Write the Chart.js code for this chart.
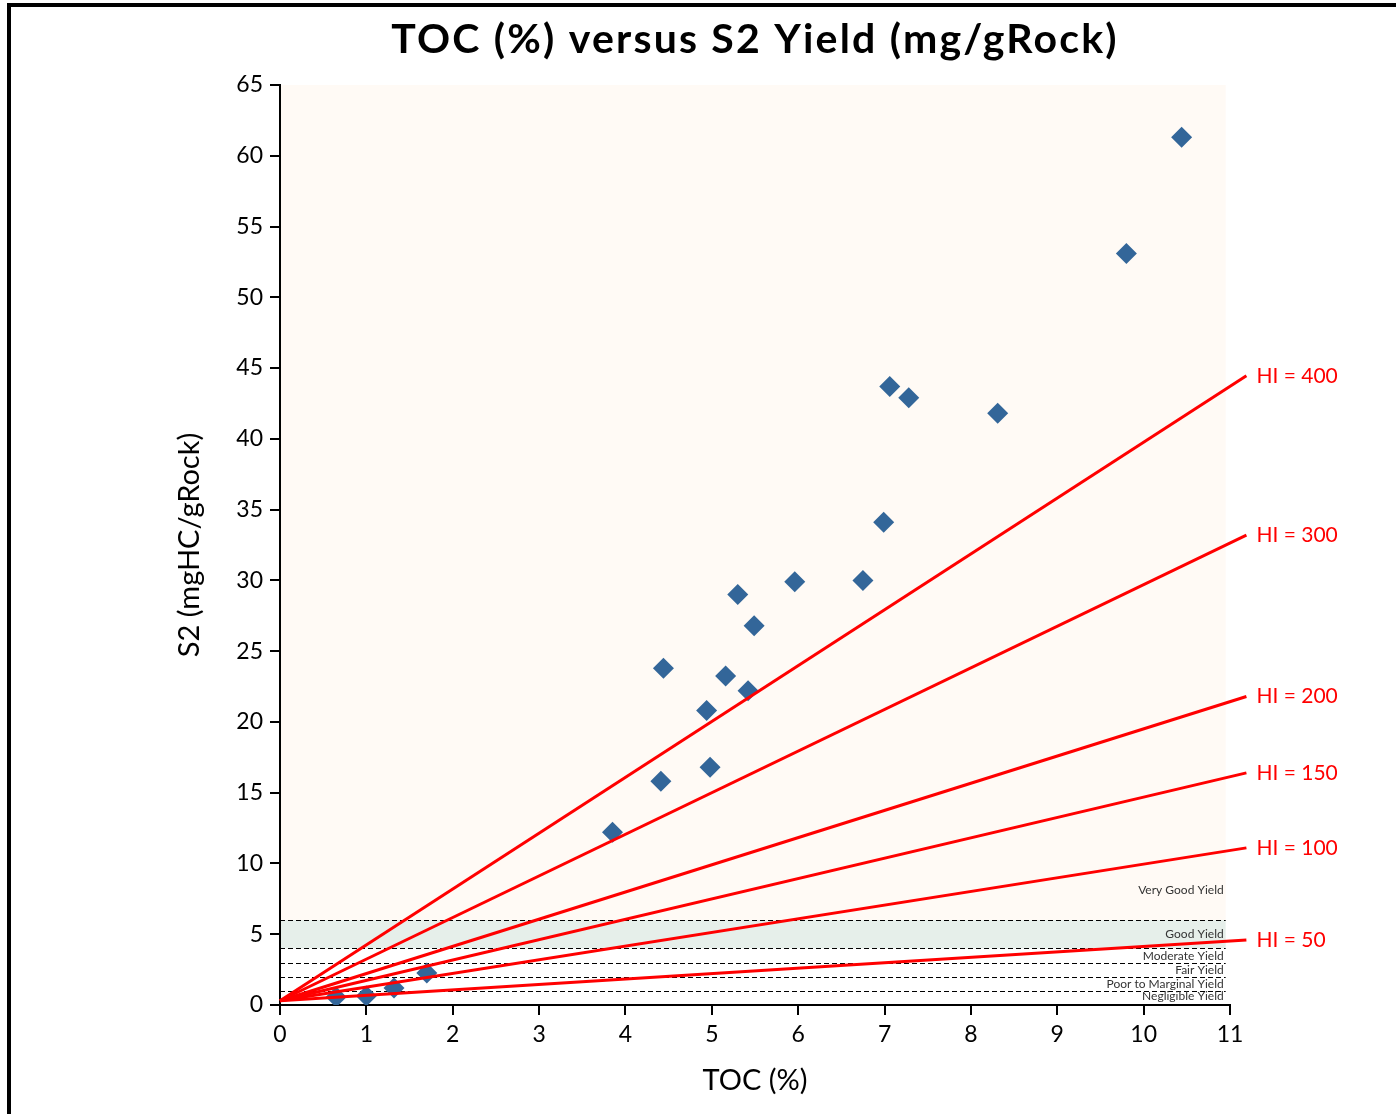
<!DOCTYPE html>
<html>
<head>
<meta charset="utf-8">
<script src="https://cdn.jsdelivr.net/npm/chart.js@4"></script>
<style>
  html, body { margin: 0; padding: 0; background: #fff; }
  #wrap { position: relative; width: 1396px; height: 1114px; overflow: hidden; }
  #chart-toc { background: #fff; }
  #frame { position: absolute; left: 7px; top: 3px; right: -10px; bottom: -10px;
           border-left: 4px solid #000; border-top: 4px solid #000; pointer-events: none; }
</style>
</head>
<body>
<div id="wrap">
  <canvas id="chart-toc" width="1396" height="1114"></canvas>
  <div id="frame"></div>
</div>
<script>
// samples: TOC (%) and S2 (mgHC/gRock)
const tocValues = [0.65, 1.0, 1.32, 1.7, 3.85, 4.41, 4.44, 4.94, 4.98, 5.16, 5.3,
                   5.42, 5.49, 5.96, 6.75, 6.99, 7.06, 7.28, 8.31, 9.8, 10.44];
const s2Values = [0.57, 0.64, 1.2, 2.26, 12.2, 15.8, 23.8, 20.8, 16.8, 23.25, 29.0,
                  22.2, 26.8, 29.9, 30.0, 34.1, 43.7, 42.9, 41.8, 53.1, 61.3];

// hydrogen index guide lines (start / end)
const hiValues = [400, 300, 200, 150, 100, 50];
const hiStartS2 = [0.3, 0.3, 0.3, 0.3, 0.3, 0.3];
const hiEndToc = [11.19, 11.19, 11.19, 11.19, 11.19, 11.19];
const hiEndS2 = [44.45, 33.2, 21.8, 16.4, 11.1, 4.6];

// yield classes
const yieldBounds = [6, 4, 3, 2, 1];
const yieldNames = ["Very Good Yield", "Good Yield", "Moderate Yield", "Fair Yield",
                    "Poor to Marginal Yield", "Negligible Yield"];
const yieldNameS2 = [8.1, 5.0, 3.45, 2.45, 1.5, 0.6];
const bandMaxToc = 10.95;

const xTicks = [0, 1, 2, 3, 4, 5, 6, 7, 8, 9, 10, 11];
const yTicks = [0, 5, 10, 15, 20, 25, 30, 35, 40, 45, 50, 55, 60, 65];

const FONT = "Lato";

let datasets = [];
for (let i = 0; i < hiValues.length; i++) {
    datasets.push({
        label: "HI = " + hiValues[i],
        data: [{ x: 0, y: hiStartS2[i] }, { x: hiEndToc[i], y: hiEndS2[i] }],
        showLine: true,
        borderColor: "#ff0000",
        borderWidth: 3,
        pointRadius: 0,
        clip: false,
        order: 0,
    });
}
datasets.push({
    label: "Samples",
    data: tocValues.map((v, i) => ({ x: v, y: s2Values[i] })),
    pointStyle: "rectRot",
    pointRadius: 10.5,
    pointBorderWidth: 0,
    backgroundColor: "#336699",
    borderColor: "#336699",
    order: 1,
});

const decor = {
    id: "decor",
    beforeDraw(chart) {
        const { ctx, scales: { x, y } } = chart;
        const x0 = x.getPixelForValue(0) + 1;
        const x1 = x.getPixelForValue(bandMaxToc);
        ctx.save();
        ctx.fillStyle = "#fffaf5";
        ctx.fillRect(x0, y.getPixelForValue(65), x1 - x0, y.getPixelForValue(6) - y.getPixelForValue(65));
        ctx.fillStyle = "#e6efea";
        ctx.fillRect(x0, y.getPixelForValue(6), x1 - x0, y.getPixelForValue(4) - y.getPixelForValue(6));
        ctx.restore();
    },
    beforeDatasetsDraw(chart) {
        const { ctx, scales: { x, y } } = chart;
        const x0 = x.getPixelForValue(0);
        const x1 = x.getPixelForValue(bandMaxToc);
        ctx.save();
        ctx.strokeStyle = "#000";
        ctx.lineWidth = 1;
        ctx.setLineDash([5, 3]);
        yieldBounds.forEach(b => {
            const py = Math.round(y.getPixelForValue(b)) + 0.5;
            ctx.beginPath();
            ctx.moveTo(x0, py);
            ctx.lineTo(x1, py);
            ctx.stroke();
        });
        ctx.setLineDash([]);
        ctx.fillStyle = "#333";
        ctx.font = "12px " + FONT;
        ctx.textAlign = "right";
        ctx.textBaseline = "middle";
        yieldNames.forEach((n, i) => {
            ctx.fillText(n, x1 - 2, y.getPixelForValue(yieldNameS2[i]));
        });
        ctx.restore();
    },
    afterDatasetsDraw(chart) {
        const { ctx } = chart;
        ctx.save();
        ctx.fillStyle = "#ff0000";
        ctx.font = "21px " + FONT;
        ctx.textAlign = "left";
        ctx.textBaseline = "middle";
        for (let i = 0; i < hiValues.length; i++) {
            const pt = chart.getDatasetMeta(i).data[1];
            ctx.fillText("HI = " + hiValues[i], pt.x + 10, pt.y);
        }
        ctx.restore();
    },
    afterDraw(chart) {
        const { ctx, chartArea } = chart;
        ctx.save();
        ctx.fillStyle = "#000";
        ctx.font = "bold 41px " + FONT;
        ctx.letterSpacing = "2.2px";
        ctx.textAlign = "center";
        ctx.textBaseline = "middle";
        ctx.fillText("TOC (%) versus S2 Yield (mg/gRock)", (chartArea.left + chartArea.right) / 2, 40);
        ctx.restore();
    },
};

var ctx = document.getElementById("chart-toc").getContext("2d");

new Chart(ctx, {
    type: "scatter",
    data: { datasets: datasets },
    plugins: [decor],
    options: {
        responsive: false,
        animation: false,
        layout: { padding: { top: 85, right: 166, left: 0, bottom: 0 } },
        plugins: {
            legend: { display: false },
            tooltip: { enabled: false },
        },
        scales: {
            x: {
                type: "linear",
                min: 0,
                max: 11,
                afterBuildTicks: (s) => { s.ticks = xTicks.map(v => ({ value: v })); },
                afterFit: (s) => { s.height = 109; },
                grid: {
                    display: true,
                    drawOnChartArea: false,
                    drawTicks: true,
                    tickLength: 10,
                    color: "#000",
                    lineWidth: 2,
                },
                border: { display: true, color: "#000", width: 2 },
                ticks: {
                    color: "#000",
                    padding: 6,
                    maxRotation: 0,
                    font: { size: 23, family: FONT },
                },
                title: {
                    display: true,
                    text: "TOC (%)",
                    color: "#000",
                    font: { size: 29, family: FONT },
                    padding: { top: 0, bottom: 16 },
                },
            },
            y: {
                type: "linear",
                min: 0,
                max: 65,
                afterBuildTicks: (s) => { s.ticks = yTicks.map(v => ({ value: v })); },
                afterFit: (s) => { s.width = 280; },
                grid: {
                    display: true,
                    drawOnChartArea: false,
                    drawTicks: true,
                    tickLength: 10,
                    color: "#000",
                    lineWidth: 2,
                },
                border: { display: true, color: "#000", width: 2 },
                ticks: {
                    color: "#000",
                    padding: 7,
                    font: { size: 23, family: FONT },
                },
                title: {
                    display: true,
                    text: "S2 (mgHC/gRock)",
                    color: "#000",
                    font: { size: 29, family: FONT },
                    padding: { top: 172, bottom: 0 },
                },
            },
        },
    },
});
</script>
</body>
</html>
